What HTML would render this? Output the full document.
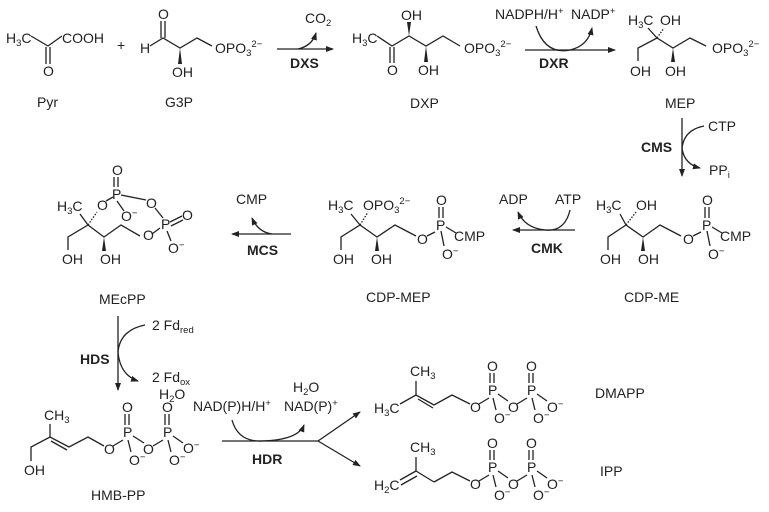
<!DOCTYPE html>
<html><head><meta charset="utf-8"><style>
html,body{margin:0;padding:0;background:#fff}
svg{display:block}
text{font-family:"Liberation Sans",Arial,sans-serif;font-size:14px;fill:#222}
.b{font-weight:bold}
.s{font-size:9.5px}
line,polyline,path{stroke:#222;stroke-width:1.3;fill:none}
.w{fill:#222;stroke:none}
</style></head><body>
<svg width="769" height="512" viewBox="0 0 769 512" xmlns="http://www.w3.org/2000/svg">
<defs><marker id="a" markerWidth="8" markerHeight="6" refX="7" refY="3" orient="auto" markerUnits="userSpaceOnUse"><path d="M0,0 L8,3 L0,6 z" class="w"/></marker></defs>

<!-- Pyr -->
<text x="6" y="43">H<tspan class="s" dy="3">3</tspan><tspan dy="-3">C</tspan></text>
<polyline points="31,36 48,46 62,36"/>
<line x1="46" y1="47" x2="46" y2="64"/><line x1="50" y1="47" x2="50" y2="64"/>
<text x="43" y="76">O</text>
<text x="62" y="43">COOH</text>
<text x="37" y="107">Pyr</text>
<text x="117" y="50">+</text>

<!-- G3P -->
<text x="140" y="53">H</text>
<polyline points="150,46 163,38 180,48 197,38 212,46"/>
<line x1="161" y1="38" x2="161" y2="21"/><line x1="165" y1="38" x2="165" y2="21"/>
<text x="158" y="19">O</text>
<path class="w" d="M180,48 L178,64 L182,64 z"/>
<text x="172" y="77">OH</text>
<text x="215" y="53">OPO<tspan class="s" dy="3">3</tspan><tspan class="s" dy="-9">2−</tspan></text>
<text x="165" y="107">G3P</text>

<!-- DXS -->
<line x1="277" y1="49" x2="333" y2="49" marker-end="url(#a)"/>
<path d="M298,49 Q312,46 316,33" marker-end="url(#a)"/>
<text x="305" y="23">CO<tspan class="s" dy="3">2</tspan></text>
<text x="290" y="68" class="b">DXS</text>

<!-- DXP -->
<text x="352" y="43">H<tspan class="s" dy="3">3</tspan><tspan dy="-3">C</tspan></text>
<polyline points="377,36 392,46 409,36 426,46 443,36 460,46"/>
<line x1="390" y1="47" x2="390" y2="63"/><line x1="394" y1="47" x2="394" y2="63"/>
<text x="387" y="75">O</text>
<path class="w" d="M409,36 L407,22 L411,22 z"/>
<text x="401" y="20">OH</text>
<path class="w" d="M426,46 L424,62 L428,62 z"/>
<text x="418" y="75">OH</text>
<text x="464" y="53">OPO<tspan class="s" dy="3">3</tspan><tspan class="s" dy="-9">2−</tspan></text>
<text x="410" y="108">DXP</text>

<!-- DXR -->
<line x1="525" y1="50" x2="615" y2="50" marker-end="url(#a)"/>
<path d="M536,26 Q545,55 570,50 Q588,46 592,28" marker-end="url(#a)"/>
<text x="495" y="19">NADPH/H<tspan class="s" dy="-5">+</tspan></text>
<text x="571" y="19">NADP<tspan class="s" dy="-5">+</tspan></text>
<text x="539" y="68" class="b">DXR</text>

<!-- MEP -->
<text x="628" y="25">H<tspan class="s" dy="3">3</tspan><tspan dy="-3">C</tspan></text>
<text x="660" y="25">OH</text>
<polyline points="638,61 638,48 657,38 673,48 690,38 706,46"/>
<line x1="657" y1="38" x2="648" y2="28"/>
<line x1="657" y1="38" x2="664" y2="28" stroke-dasharray="1.5,1.5"/>
<path class="w" d="M673,48 L671,62 L675,62 z"/>
<text x="630" y="76">OH</text>
<text x="665" y="76">OH</text>
<text x="712" y="53">OPO<tspan class="s" dy="3">3</tspan><tspan class="s" dy="-9">2−</tspan></text>
<text x="665" y="108">MEP</text>

<!-- CMS -->
<line x1="682" y1="118" x2="682" y2="176" marker-end="url(#a)"/>
<path d="M704,126 Q684,130 682,148 Q684,164 700,168" marker-end="url(#a)"/>
<text x="708" y="131">CTP</text>
<text x="709" y="175">PP<tspan class="s" dy="3">i</tspan></text>
<text x="641" y="152" class="b">CMS</text>

<!-- CDP-ME -->
<text x="596" y="210">H<tspan class="s" dy="3">3</tspan><tspan dy="-3">C</tspan></text>
<text x="636" y="210">OH</text>
<polyline points="608,250 608,237 626,225 643,237 660,225 681,236"/>
<line x1="626" y1="225" x2="620" y2="214"/>
<line x1="626" y1="225" x2="636" y2="212" stroke-dasharray="1.5,1.5"/>
<path class="w" d="M643,237 L641,251 L645,251 z"/>
<text x="600" y="264">OH</text>
<text x="638" y="264">OH</text>
<text x="683" y="244">O</text>
<line x1="693" y1="236" x2="701" y2="232"/>
<text x="702" y="230">P</text>
<line x1="705" y1="218" x2="705" y2="207"/><line x1="709" y1="218" x2="709" y2="207"/>
<text x="702" y="205">O</text>
<line x1="712" y1="227" x2="722" y2="233"/>
<text x="720" y="241">CMP</text>
<line x1="707" y1="231" x2="710" y2="246"/>
<text x="708" y="259">O<tspan class="s" dy="-5">−</tspan></text>
<text x="624" y="302">CDP-ME</text>

<!-- CMK -->
<line x1="575" y1="230" x2="513" y2="230" marker-end="url(#a)"/>
<path d="M570,210 Q565,232 545,230 Q525,228 518,212" marker-end="url(#a)"/>
<text x="499" y="204">ADP</text>
<text x="555" y="204">ATP</text>
<text x="531" y="253" class="b">CMK</text>

<!-- CDP-MEP -->
<text x="328" y="210">H<tspan class="s" dy="3">3</tspan><tspan dy="-3">C</tspan></text>
<text x="363" y="210">OPO<tspan class="s" dy="3">3</tspan><tspan class="s" dy="-9">2−</tspan></text>
<polyline points="341,250 341,237 360,225 377,237 395,225 416,236"/>
<line x1="360" y1="225" x2="351" y2="214"/>
<line x1="360" y1="225" x2="368" y2="212" stroke-dasharray="1.5,1.5"/>
<path class="w" d="M377,237 L375,251 L379,251 z"/>
<text x="333" y="264">OH</text>
<text x="371" y="264">OH</text>
<text x="417" y="244">O</text>
<line x1="427" y1="236" x2="435" y2="232"/>
<text x="436" y="230">P</text>
<line x1="439" y1="218" x2="439" y2="207"/><line x1="443" y1="218" x2="443" y2="207"/>
<text x="436" y="205">O</text>
<line x1="446" y1="227" x2="456" y2="233"/>
<text x="454" y="241">CMP</text>
<line x1="441" y1="231" x2="444" y2="246"/>
<text x="442" y="259">O<tspan class="s" dy="-5">−</tspan></text>
<text x="366" y="302">CDP-MEP</text>

<!-- MCS -->
<line x1="291" y1="234" x2="232" y2="234" marker-end="url(#a)"/>
<path d="M272,234 Q258,232 252,218" marker-end="url(#a)"/>
<text x="236" y="204">CMP</text>
<text x="247" y="255" class="b">MCS</text>

<!-- MEcPP -->
<text x="57" y="211">H<tspan class="s" dy="3">3</tspan><tspan dy="-3">C</tspan></text>
<polyline points="68,250 68,237 88,225 104,237 121,225 140,236"/>
<line x1="88" y1="225" x2="80" y2="214"/>
<line x1="88" y1="225" x2="97" y2="212" stroke-dasharray="1.5,1.5"/>
<path class="w" d="M104,237 L102,251 L106,251 z"/>
<text x="62" y="264">OH</text>
<text x="100" y="264">OH</text>
<text x="97" y="210">O</text>
<line x1="106" y1="201" x2="113" y2="197"/>
<text x="112" y="199">P</text>
<line x1="114" y1="187" x2="114" y2="177"/><line x1="118" y1="187" x2="118" y2="177"/>
<text x="112" y="175">O</text>
<line x1="121" y1="195" x2="146" y2="200"/>
<text x="146" y="208">O</text>
<line x1="117" y1="201" x2="124" y2="211"/>
<text x="121" y="221">O<tspan class="s" dy="-5">−</tspan></text>
<line x1="155" y1="208" x2="163" y2="218"/>
<text x="161" y="229">P</text>
<line x1="170" y1="222" x2="182" y2="216"/><line x1="171" y1="226" x2="183" y2="220"/>
<text x="182" y="220">O</text>
<text x="143" y="240">O</text>
<line x1="152" y1="234" x2="160" y2="228"/>
<line x1="167" y1="231" x2="171" y2="241"/>
<text x="168" y="253">O<tspan class="s" dy="-5">−</tspan></text>
<text x="99" y="304">MEcPP</text>

<!-- HDS -->
<line x1="118" y1="316" x2="118" y2="390" marker-end="url(#a)"/>
<path d="M145,325 Q120,330 118,352 Q120,375 138,381" marker-end="url(#a)"/>
<text x="152" y="330">2 Fd<tspan class="s" dy="3">red</tspan></text>
<text x="80" y="364" class="b">HDS</text>
<text x="152" y="382">2 Fd<tspan class="s" dy="3">ox</tspan></text>
<text x="159" y="399">H<tspan class="s" dy="3">2</tspan><tspan dy="-3">O</tspan></text>

<!-- HMB-PP -->
<text x="44" y="420">CH<tspan class="s" dy="3">3</tspan></text>
<polyline points="31,461 31,447 50,437 69,447 88,437 104,446"/>
<line x1="50" y1="424" x2="50" y2="437"/>
<line x1="51" y1="441" x2="67" y2="450"/>
<text x="24" y="475">OH</text>
<text x="104" y="454">O</text>
<line x1="113" y1="446" x2="123" y2="440"/>
<text x="123" y="437">P</text>
<line x1="125" y1="425" x2="125" y2="414"/><line x1="129" y1="425" x2="129" y2="414"/>
<text x="122" y="412">O</text>
<line x1="128" y1="440" x2="131" y2="452"/>
<text x="129" y="465">O<tspan class="s" dy="-5">−</tspan></text>
<line x1="133" y1="436" x2="144" y2="443"/>
<text x="143" y="454">O</text>
<line x1="153" y1="446" x2="163" y2="440"/>
<text x="163" y="437">P</text>
<line x1="165" y1="425" x2="165" y2="414"/><line x1="169" y1="425" x2="169" y2="414"/>
<text x="162" y="412">O</text>
<line x1="168" y1="440" x2="171" y2="452"/>
<text x="169" y="465">O<tspan class="s" dy="-5">−</tspan></text>
<line x1="173" y1="436" x2="183" y2="443"/>
<text x="183" y="453">O<tspan class="s" dy="-5">−</tspan></text>
<text x="91" y="500">HMB-PP</text>

<!-- HDR -->
<line x1="222" y1="441" x2="318" y2="441"/>
<line x1="318" y1="441" x2="360" y2="412" marker-end="url(#a)"/>
<line x1="318" y1="441" x2="360" y2="466" marker-end="url(#a)"/>
<path d="M232,420 Q238,442 262,441 Q298,440 304,425" marker-end="url(#a)"/>
<text x="193" y="411">NAD(P)H/H<tspan class="s" dy="-5">+</tspan></text>
<text x="293" y="392">H<tspan class="s" dy="3">2</tspan><tspan dy="-3">O</tspan></text>
<text x="284" y="411">NAD(P)<tspan class="s" dy="-5">+</tspan></text>
<text x="252" y="464" class="b">HDR</text>

<!-- DMAPP -->
<text x="410" y="376">CH<tspan class="s" dy="3">3</tspan></text>
<text x="374" y="413">H<tspan class="s" dy="3">3</tspan><tspan dy="-3">C</tspan></text>
<polyline points="400,404 416,395 434,405 452,395 470,404"/>
<line x1="416" y1="381" x2="416" y2="395"/>
<line x1="418" y1="399" x2="433" y2="408"/>
<text x="470" y="412">O</text>
<line x1="479" y1="404" x2="489" y2="398"/>
<text x="488" y="395">P</text>
<line x1="490" y1="383" x2="490" y2="373"/><line x1="494" y1="383" x2="494" y2="373"/>
<text x="487" y="371">O</text>
<line x1="493" y1="398" x2="496" y2="410"/>
<text x="494" y="423">O<tspan class="s" dy="-5">−</tspan></text>
<line x1="498" y1="394" x2="508" y2="401"/>
<text x="508" y="412">O</text>
<line x1="517" y1="404" x2="527" y2="398"/>
<text x="527" y="395">P</text>
<line x1="529" y1="383" x2="529" y2="373"/><line x1="533" y1="383" x2="533" y2="373"/>
<text x="526" y="371">O</text>
<line x1="532" y1="398" x2="535" y2="410"/>
<text x="533" y="423">O<tspan class="s" dy="-5">−</tspan></text>
<line x1="537" y1="394" x2="547" y2="401"/>
<text x="547" y="412">O<tspan class="s" dy="-5">−</tspan></text>
<text x="595" y="398">DMAPP</text>

<!-- IPP -->
<text x="410" y="452">CH<tspan class="s" dy="3">3</tspan></text>
<text x="374" y="490">H<tspan class="s" dy="3">2</tspan><tspan dy="-3">C</tspan></text>
<polyline points="434,482 452,472 470,481"/>
<line x1="400" y1="480" x2="416" y2="471"/>
<line x1="401" y1="485" x2="417" y2="476"/>
<line x1="416" y1="457" x2="416" y2="471"/>
<line x1="416" y1="471" x2="434" y2="482"/>
<text x="470" y="489">O</text>
<line x1="479" y1="481" x2="489" y2="475"/>
<text x="488" y="472">P</text>
<line x1="490" y1="460" x2="490" y2="450"/><line x1="494" y1="460" x2="494" y2="450"/>
<text x="487" y="448">O</text>
<line x1="493" y1="475" x2="496" y2="487"/>
<text x="494" y="500">O<tspan class="s" dy="-5">−</tspan></text>
<line x1="498" y1="471" x2="508" y2="478"/>
<text x="508" y="489">O</text>
<line x1="517" y1="481" x2="527" y2="475"/>
<text x="527" y="472">P</text>
<line x1="529" y1="460" x2="529" y2="450"/><line x1="533" y1="460" x2="533" y2="450"/>
<text x="526" y="448">O</text>
<line x1="532" y1="475" x2="535" y2="487"/>
<text x="533" y="500">O<tspan class="s" dy="-5">−</tspan></text>
<line x1="537" y1="471" x2="547" y2="478"/>
<text x="547" y="489">O<tspan class="s" dy="-5">−</tspan></text>
<text x="600" y="476">IPP</text>
</svg>
</body></html>
